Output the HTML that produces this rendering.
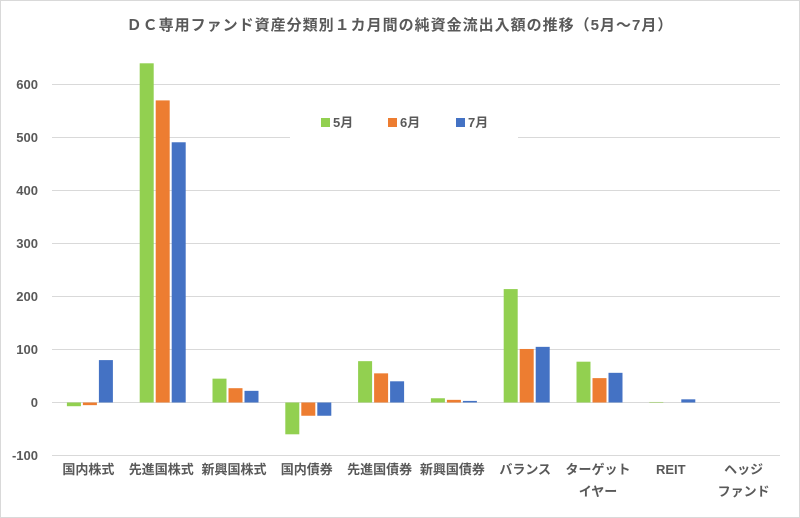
<!DOCTYPE html>
<html><head><meta charset="utf-8"><style>
body{margin:0;background:#fff;}
svg{display:block;font-family:"Liberation Sans","Noto Sans CJK JP",sans-serif;}
</style></head><body>
<svg id="c" width="800" height="518" xmlns="http://www.w3.org/2000/svg">
<rect x="0.5" y="0.5" width="799" height="517" fill="#fff" stroke="#d9d9d9"/>
<text x="400" y="30" text-anchor="middle" font-size="15" font-weight="bold" fill="#595959" letter-spacing="1">ＤＣ専用ファンド資産分類別１カ月間の純資金流出入額の推移（5月～7月）</text>
<g id="grid"></g>
<g id="bars"></g>
<g id="lab" font-size="13" font-weight="bold" fill="#595959" text-anchor="middle"></g>
<rect x="290" y="108" width="228" height="30" fill="#fff"/>
<g font-size="13" font-weight="bold" fill="#595959">
<rect x="321" y="118" width="9" height="9" fill="#92d050"/><text x="333" y="127">5月</text>
<rect x="388" y="118" width="9" height="9" fill="#ed7d31"/><text x="400" y="127">6月</text>
<rect x="456" y="118" width="9" height="9" fill="#4472c4"/><text x="468" y="127">7月</text>
</g>
</svg>
<script>
var ns="http://www.w3.org/2000/svg";
function el(p,t,a,txt){var e=document.createElementNS(ns,t);for(var k in a)e.setAttribute(k,a[k]);if(txt)e.textContent=txt;document.getElementById(p).appendChild(e);}
var y0=402.5,s=0.53;
for(var v=-100;v<=600;v+=100){var y=y0-v*s;el("grid","line",{x1:52,x2:780,y1:y,y2:y,stroke:"#d9d9d9","stroke-width":1});
el("lab","text",{x:38,y:y+4.5,"text-anchor":"end"},String(v));}
var cats=[["国内株式"],["先進国株式"],["新興国株式"],["国内債券"],["先進国債券"],["新興国債券"],["バランス"],["ターゲット","イヤー"],["REIT"],["ヘッジ","ファンド"]];
var d=[[-7,-5,80],[640,570,491],[45,27,22],[-60,-25,-25],[78,55,40],[8,5,3],[214,101,105],[77,46,56],[1,0,6],[0,0,0]];
var col=["#92d050","#ed7d31","#4472c4"];
for(var i=0;i<10;i++){var cx=53.5+72.8*(i+0.5);
for(var j=0;j<3;j++){var v=d[i][j];if(!v)continue;var h=Math.abs(v)*s;
el("bars","rect",{x:cx+(j-1)*16-7,y:v>0?y0-h:y0,width:14,height:h,fill:col[j]});}
el("lab","text",{x:cx-1.5,y:474},cats[i][0]);if(cats[i][1])el("lab","text",{x:cx-1.5,y:496},cats[i][1]);}
</script>
</body></html>
